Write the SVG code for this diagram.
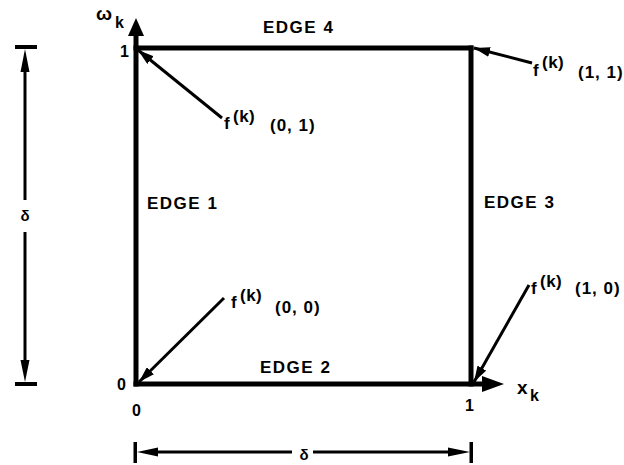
<svg xmlns="http://www.w3.org/2000/svg" width="624" height="465" viewBox="0 0 624 465">
<style>
text { font-family: "Liberation Sans", Arial, sans-serif; font-weight: bold; fill: #000; }
.edge { font-size: 17px; letter-spacing: 1.5px; }
.tick { font-size: 16px; }
.f { font-size: 17px; }
.sup { font-size: 17px; letter-spacing: 0.5px; }
.arg { font-size: 17px; letter-spacing: 1px; }
.axis { font-size: 19px; }
.sub { font-size: 16px; }
.dim { font-size: 15px; }
.sq { stroke: #000; stroke-width: 5; fill: none; stroke-linecap: square; }
.lead { stroke: #000; stroke-width: 3; fill: none; }
.dl { stroke: #000; stroke-width: 3; fill: none; }
</style>
<defs>
<marker id="ah" markerUnits="userSpaceOnUse" markerWidth="17" markerHeight="10" refX="16" refY="5" orient="auto">
<path d="M0,0 L16,5 L0,10 z" fill="#000"/>
</marker>
</defs>

<g id="square">
<line class="sq" x1="136" y1="48" x2="471" y2="48"/>
<line class="sq" x1="471" y1="48" x2="471" y2="384"/>
<line class="sq" x1="136" y1="384" x2="482" y2="384"/>
<line class="sq" x1="136" y1="384" x2="136" y2="36"/>
</g>

<g id="axis-omega">
<polygon points="136,18 128,36 144,36" fill="#000"/>
<text class="axis" x="96" y="20">ω</text>
<text class="sub" x="115" y="28">k</text>
</g>
<g id="axis-x">
<polygon points="504,384 482,376 482,392" fill="#000"/>
<text class="axis" x="517" y="394">x</text>
<text class="sub" x="530" y="401">k</text>
</g>

<g id="ticks">
<text class="tick" x="120" y="57">1</text>
<text class="tick" x="117" y="390">0</text>
<text class="tick" x="132" y="416">0</text>
<text class="tick" x="465" y="411">1</text>
</g>

<g id="edge1"><text class="edge" x="147" y="209">EDGE 1</text></g>
<g id="edge2"><text class="edge" x="260" y="373">EDGE 2</text></g>
<g id="edge3"><text class="edge" x="484" y="208">EDGE 3</text></g>
<g id="edge4"><text class="edge" x="263" y="33">EDGE 4</text></g>

<g id="label-01">
<text class="f" x="224" y="129">f</text>
<text class="sup" x="233" y="122">(k)</text>
<text class="arg" x="270" y="131">(0, 1)</text>
</g>
<g id="label-11">
<text class="f" x="533" y="76">f</text>
<text class="sup" x="542" y="68">(k)</text>
<text class="arg" x="578" y="78">(1, 1)</text>
</g>
<g id="label-00">
<text class="f" x="231" y="308">f</text>
<text class="sup" x="240" y="301">(k)</text>
<text class="arg" x="275" y="313">(0, 0)</text>
</g>
<g id="label-10">
<text class="f" x="531" y="294">f</text>
<text class="sup" x="540" y="287">(k)</text>
<text class="arg" x="575" y="294">(1, 0)</text>
</g>

<g id="connectors">
<line class="lead" x1="222" y1="118" x2="138" y2="50" marker-end="url(#ah)"/>
<line class="lead" x1="532" y1="63" x2="474" y2="48" marker-end="url(#ah)"/>
<line class="lead" x1="224" y1="298" x2="139" y2="382" marker-end="url(#ah)"/>
<line class="lead" x1="529" y1="285" x2="474" y2="382" marker-end="url(#ah)"/>
</g>

<g id="dim-vertical">
<rect x="15" y="45" width="22" height="4" fill="#000"/>
<rect x="15" y="382" width="22" height="4" fill="#000"/>
<line class="dl" x1="25" y1="70" x2="25" y2="200"/>
<line class="dl" x1="25" y1="232" x2="25" y2="362"/>
<polygon points="25,49 20.5,72 29.5,72" fill="#000"/>
<polygon points="25,382 20.5,360 29.5,360" fill="#000"/>
<text class="dim" x="25" y="221" text-anchor="middle">δ</text>
</g>

<g id="dim-horizontal">
<rect x="133.5" y="442" width="3.5" height="21" fill="#000"/>
<rect x="469.5" y="442" width="3.5" height="21" fill="#000"/>
<line class="dl" x1="155" y1="452" x2="292" y2="452"/>
<line class="dl" x1="313" y1="452" x2="450" y2="452"/>
<polygon points="137,452 158,447.5 158,456.5" fill="#000"/>
<polygon points="470,452 448,447.5 448,456.5" fill="#000"/>
<text class="dim" x="304" y="460" text-anchor="middle">δ</text>
</g>
</svg>
